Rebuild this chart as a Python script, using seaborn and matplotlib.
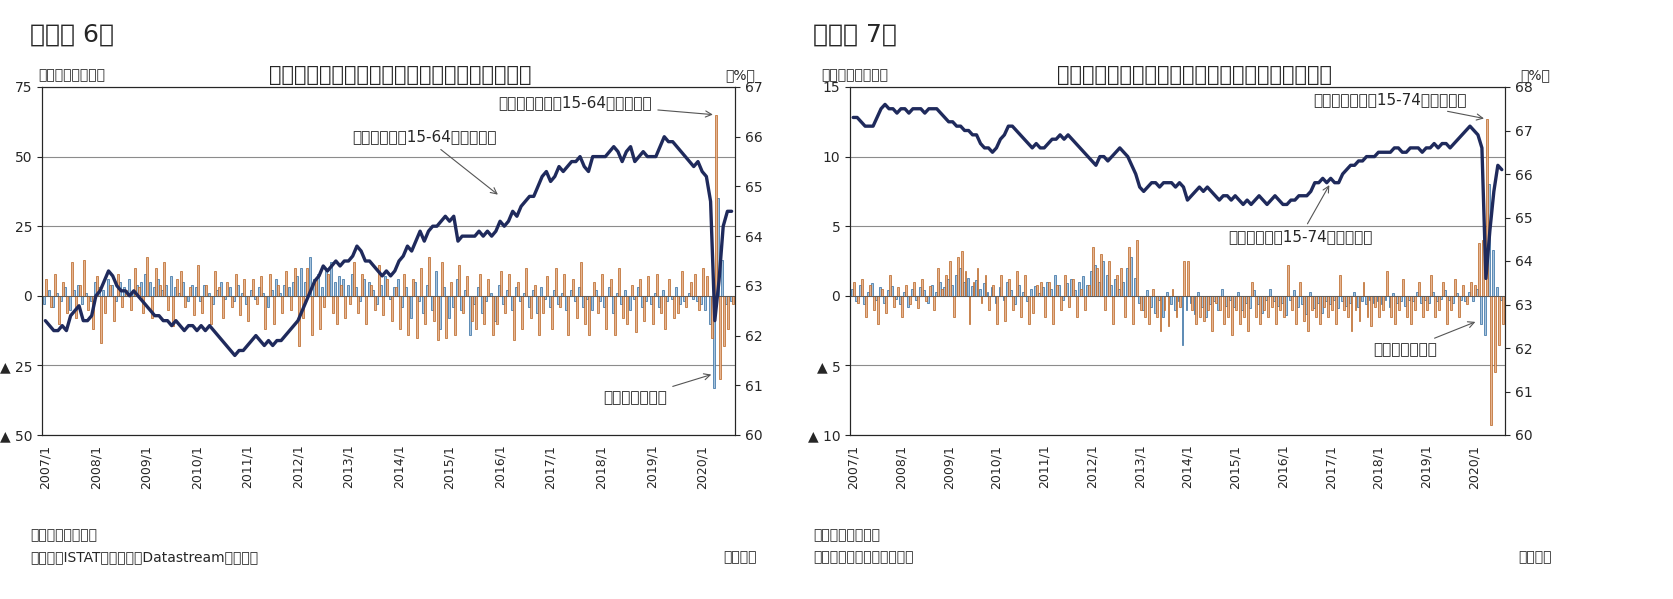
import numpy as np
import pandas as pd
import matplotlib
matplotlib.use("Agg")
import matplotlib.pyplot as plt
import seaborn as sns
from matplotlib.ticker import FuncFormatter

plt.rcParams["font.family"] = "Noto Sans CJK JP"
sns.set_style("white")

# 2007/1 - 2020/8 monthly
MONTHS = [f"{y}/{m}" for y in range(2007, 2021) for m in range(1, 13)][:164]

IT_LFPR = [
    62.3, 62.2, 62.1, 62.1, 62.2, 62.1, 62.4, 62.5, 62.6, 62.3, 62.3, 62.4,
    62.8, 62.9, 63.1, 63.3, 63.2, 63.0, 62.9, 62.9, 62.8, 62.9, 62.8, 62.7,
    62.6, 62.5, 62.4, 62.4, 62.3, 62.3, 62.2, 62.3, 62.2, 62.1, 62.2, 62.2,
    62.1, 62.2, 62.1, 62.2, 62.1, 62.0, 61.9, 61.8, 61.7, 61.6, 61.7, 61.7,
    61.8, 61.9, 62.0, 61.9, 61.8, 61.9, 61.8, 61.9, 61.9, 62.0, 62.1, 62.2,
    62.3, 62.5, 62.7, 62.9, 63.1, 63.2, 63.4, 63.3, 63.4, 63.5, 63.4, 63.5,
    63.5, 63.6, 63.8, 63.7, 63.5, 63.5, 63.4, 63.3, 63.2, 63.3, 63.2, 63.3,
    63.5, 63.6, 63.8, 63.7, 63.9, 64.1, 63.9, 64.1, 64.2, 64.2, 64.3, 64.4,
    64.3, 64.4, 63.9, 64.0, 64.0, 64.0, 64.0, 64.1, 64.0, 64.1, 64.0, 64.1,
    64.3, 64.2, 64.3, 64.5, 64.4, 64.6, 64.7, 64.8, 64.8, 65.0, 65.2, 65.3,
    65.1, 65.2, 65.4, 65.3, 65.4, 65.5, 65.5, 65.6, 65.4, 65.3, 65.6, 65.6,
    65.6, 65.6, 65.7, 65.8, 65.7, 65.5, 65.7, 65.8, 65.5, 65.6, 65.7, 65.6,
    65.6, 65.6, 65.8, 66.0, 65.9, 65.9, 65.8, 65.7, 65.6, 65.5, 65.4, 65.5,
    65.3, 65.2, 64.7, 62.3, 63.1, 64.2, 64.5, 64.5,
]
IT_UNEMP = [
    -3, 2, -4, 1, -2, 3, -5, 2, 4, -3, 1, -2,
    5, 3, 2, 6, 4, -2, 5, 3, 6, 2, 4, 5,
    8, 5, 3, 6, 2, 4, 7, 3, 1, 5, -2, 4,
    3, -2, 4, 1, -3, 2, 5, -1, 3, -2, 4, 1,
    -3, 2, -1, 3, 1, -4, 2, 6, 1, 4, 3, 5,
    7, 10, 5, 14, 6, 8, 3, 9, 12, 5, 7, 6,
    4, 8, 3, -2, 6, 5, 2, -3, 4, 7, -1, 3,
    6, -4, 3, -8, 5, -2, -6, 4, -5, 9, -12, 3,
    -8, -4, 6, -5, 2, -14, -3, 3, -6, -2, 1, -9,
    4, -3, 2, -5, 3, -2, 1, -4, 2, -6, 3, -1,
    -4, 2, -3, 1, -5, 2, -2, 3, -4, -1, -5, 2,
    -2, -4, 3, -6, 1, -3, 2, -5, -1, 3, -4, -2,
    -3, 1, -4, 2, -2, -1, 3, -3, -2, 1, -1, -2,
    -3, -5, -10, -33, 35, 13, -3, -2,
]
IT_INACT = [
    6, -4, 8, -10, 5, -6, 12, -8, 4, 13, -5, -12,
    7, -17, -6, 4, -9, 8, -4, 2, -5, 10, 3, -6,
    14, -8, 10, 4, 12, -5, -11, 6, 9, -4, 3, -7,
    11, -6, 4, -10, 9, 3, -8, 5, -4, 8, -7, 6,
    -9, 6, -3, 7, -12, 8, -10, 4, -6, 9, -5, 10,
    -18, -8, 10, -14, 6, -12, -4, 8, -6, -10, 4, -8,
    -3, 12, -6, 8, -10, 4, -5, 11, -7, 6, -9, 3,
    -12, 8, -14, 6, -15, 10, -10, 14, -9, -16, 12, -15,
    5, -14, 11, -6, 7, -9, -12, 8, -10, 6, -14, -10,
    9, -6, 8, -16, 5, -12, 10, -8, 4, -14, -6, 7,
    -12, 10, -4, 8, -14, 6, -8, 12, -10, -14, 5, -6,
    8, -12, 6, -14, 10, -8, -10, 4, -13, 6, -9, 7,
    -10, 8, -6, -12, 6, -8, -6, 9, -4, 5, 8, -5,
    10, 7, -15, 65, -30, -18, -12, -3,
]

PT_LFPR = [
    67.3, 67.3, 67.2, 67.1, 67.1, 67.1, 67.3, 67.5, 67.6, 67.5, 67.5, 67.4,
    67.5, 67.5, 67.4, 67.5, 67.5, 67.5, 67.4, 67.5, 67.5, 67.5, 67.4, 67.3,
    67.2, 67.2, 67.1, 67.1, 67.0, 67.0, 66.9, 66.9, 66.7, 66.6, 66.6, 66.5,
    66.6, 66.8, 66.9, 67.1, 67.1, 67.0, 66.9, 66.8, 66.7, 66.6, 66.7, 66.6,
    66.6, 66.7, 66.8, 66.8, 66.9, 66.8, 66.9, 66.8, 66.7, 66.6, 66.5, 66.4,
    66.3, 66.2, 66.4, 66.4, 66.3, 66.4, 66.5, 66.6, 66.5, 66.4, 66.2, 66.0,
    65.7, 65.6, 65.7, 65.8, 65.8, 65.7, 65.8, 65.8, 65.8, 65.7, 65.8, 65.7,
    65.4, 65.5, 65.6, 65.7, 65.6, 65.7, 65.6, 65.5, 65.4, 65.5, 65.5, 65.4,
    65.5, 65.4, 65.3, 65.4, 65.3, 65.4, 65.5, 65.4, 65.3, 65.4, 65.5, 65.4,
    65.3, 65.3, 65.4, 65.4, 65.5, 65.5, 65.5, 65.6, 65.8, 65.8, 65.9, 65.8,
    65.9, 65.8, 65.8, 66.0, 66.1, 66.2, 66.2, 66.3, 66.3, 66.4, 66.4, 66.4,
    66.5, 66.5, 66.5, 66.5, 66.6, 66.6, 66.5, 66.5, 66.6, 66.6, 66.6, 66.5,
    66.6, 66.6, 66.7, 66.6, 66.7, 66.7, 66.6, 66.7, 66.8, 66.9, 67.0, 67.1,
    67.0, 66.9, 66.6, 63.6, 64.7, 65.6, 66.2, 66.1,
]
PT_UNEMP = [
    0.5, -0.4, 0.8, -0.6, 0.3, 0.9, -0.3, 0.6, -0.5, 0.4, 0.7, -0.2,
    -0.6, 0.3, -0.8, 0.5, -0.3, 0.6, 0.4, -0.5, 0.8, 0.3, 1.0, 0.6,
    1.2, 0.8, 1.5, 2.0, 1.0, 1.3, 0.7, 1.1, 0.5, 0.9, 0.3, 0.6,
    -0.5, 0.6, -0.3, 1.0, 0.4, -0.6, 0.8, 0.3, -0.4, 0.5, 0.7, 0.2,
    0.6, 1.0, 0.5, 1.5, 0.8, -0.3, 0.9, 1.2, 0.4, 1.0, 1.4, 0.8,
    1.8, 2.2, 1.0, 2.5, 1.5, 0.8, 1.2, 0.5, 1.0, 2.0, 2.8, 1.3,
    -0.5, -1.0, 0.4, -0.8, -1.2, -0.3, -1.5, 0.3, -0.6, -1.0, -0.4, -3.5,
    -1.0, -0.5, -1.3, 0.3, -0.8, -1.5, -0.6, -0.4, -1.0, 0.5, -0.7, -0.3,
    -0.8, 0.3, -1.0, -0.5, -0.9, 0.4, -0.6, -1.2, -0.3, 0.5, -0.4, -0.7,
    -0.5, -1.4, -0.3, 0.4, -0.8, -0.6, -1.3, 0.3, -0.9, -0.5, -1.2, -0.4,
    -0.6, -0.3, -0.9, -0.4, -0.7, -0.5, 0.3, -0.8, -0.4, -0.6, -0.3, -0.5,
    -0.4, -0.6, -0.3, -0.8, 0.2, -0.5, -0.4, -0.7, -0.3, -0.4, 0.3, -0.5,
    -0.3, -0.5, 0.3, -0.4, -0.2, 0.4, -0.3, -0.5, 0.2, -0.3, -0.4, 0.3,
    -0.4, 0.5, -2.0, -2.8, 8.0, 3.3, 0.6, -0.3,
]
PT_INACT = [
    1.0, -0.5, 1.2, -1.5, 0.8, -1.0, -2.0, 0.5, -1.2, 1.5, -0.8, 0.6,
    -1.5, 0.8, -0.6, 1.0, -0.9, 1.2, -0.4, 0.7, -1.0, 2.0, 0.5, 1.5,
    2.5, -1.5, 2.8, 3.2, 1.8, -2.0, 1.0, 2.0, -0.5, 1.5, -1.0, 0.8,
    -2.0, 1.5, -1.8, 1.2, -1.0, 1.8, -1.5, 1.5, -2.0, -1.2, 0.8, 1.0,
    -1.5, 1.0, -2.0, 0.8, -1.0, 1.5, -0.8, 1.2, -1.5, 0.5, -1.0, 0.8,
    3.5, 2.0, 3.0, -1.0, 2.5, -2.0, 1.5, 2.0, -1.5, 3.5, -2.0, 4.0,
    -1.0, -1.5, -2.0, 0.5, -1.5, -2.5, -1.0, -2.2, 0.5, -1.5, -0.8, 2.5,
    2.5, -1.0, -2.0, -1.5, -1.8, -1.0, -2.5, -0.5, -1.0, -2.0, -1.5, -2.8,
    -1.0, -2.0, -1.5, -2.5, 1.0, -1.5, -2.0, -1.0, -1.5, -0.8, -2.0, -1.0,
    -1.5, 2.2, -1.0, -2.0, 1.0, -1.8, -2.5, -1.0, -1.5, -2.0, -0.8, -1.5,
    -1.0, -2.0, 1.5, -1.0, -1.5, -2.5, -1.0, -1.8, 1.0, -1.5, -2.2, -0.8,
    -1.5, -1.0, 1.8, -1.5, -2.0, -1.0, 1.2, -1.5, -2.0, -1.0, 1.0, -1.5,
    -1.0, 1.5, -1.5, -1.0, 1.0, -2.0, -1.0, 1.2, -1.5, 0.8, -0.6, 1.0,
    0.8, 3.8, 4.0, 12.7, -9.3, -5.5, -3.5, -2.0,
]

BLUE = "#9dc3e6"
BLUE_EDGE = "#2f6a9e"
ORANGE = "#f4b183"
ORANGE_EDGE = "#b8621f"
NAVY = "#1f2a5c"


def tri_fmt(v, _):
    return f"▲ {abs(v):g}" if v < 0 else f"{v:g}"


def draw_panel(fig, rect, unemp, inact, lfpr, ylim, yticks, rlim, ann):
    ax = fig.add_axes(rect)
    df = pd.DataFrame({
        "month": MONTHS * 2,
        "val": list(unemp) + list(inact),
        "series": ["失業者"] * len(MONTHS) + ["非労働力"] * len(MONTHS),
    })
    sns.barplot(data=df, x="month", y="val", hue="series", ax=ax,
                palette=[BLUE, ORANGE], linewidth=0.5, width=0.95, legend=False)
    # edge colour per series
    for container, edge in zip(ax.containers, [BLUE_EDGE, ORANGE_EDGE]):
        for bar in container:
            bar.set_edgecolor(edge)
    ax.set_ylim(*ylim)
    ax.set_yticks(yticks)
    ax.yaxis.set_major_formatter(FuncFormatter(tri_fmt))
    ax.grid(True, axis="y", color="#8c8c8c", linewidth=0.8)
    ax.set_axisbelow(True)
    ax.axhline(0, color="#555555", linewidth=0.6)
    ax.set_xlim(-0.8, len(MONTHS) - 0.2)
    ticks = list(range(0, len(MONTHS), 12))
    ax.set_xticks(ticks)
    ax.set_xticklabels([MONTHS[i] for i in ticks], rotation=90, fontsize=9)
    ax.set_xlabel("")
    ax.set_ylabel("")
    ax.tick_params(axis="y", labelsize=10)
    for s in ax.spines.values():
        s.set_color("#333333")

    ax2 = ax.twinx()
    sns.lineplot(x=np.arange(len(MONTHS)), y=lfpr, ax=ax2, color=NAVY, linewidth=2.4)
    ax2.set_ylim(*rlim)
    ax2.set_yticks(range(rlim[0], rlim[1] + 1))
    ax2.tick_params(axis="y", labelsize=10)

    arrow = dict(arrowstyle="->", color="#555555", linewidth=0.8)
    for text, (xi, yv, axis), (tx, ty) in ann:
        target = ax if axis == "l" else ax2
        target.annotate(text, xy=(xi, yv), xycoords="data",
                        xytext=(tx / 1673, 1 - ty / 599), textcoords="figure fraction",
                        fontsize=11, ha="center", va="center", arrowprops=arrow)
    return ax


fig = plt.figure(figsize=(16.73, 5.99), dpi=100)

draw_panel(fig, [42 / 1673, 1 - 435 / 599, 693 / 1673, 348 / 599],
           IT_UNEMP, IT_INACT, IT_LFPR, (-50, 75), [-50, -25, 0, 25, 50, 75], (60, 67),
           [("非労働者人口（15-64才）の変化", (159.2, 65, "l"), (575, 103)),
            ("労働参加率（15-64才、右軸）", (108, 64.8, "r"), (425, 137)),
            ("失業者数の変化", (158.8, -28, "l"), (635, 398))])

draw_panel(fig, [850 / 1673, 1 - 435 / 599, 655 / 1673, 348 / 599],
           PT_UNEMP, PT_INACT, PT_LFPR, (-10, 15), [-10, -5, 0, 5, 10, 15], (60, 68),
           [("非労働者人口（15-74才）の変化", (159.2, 12.7, "l"), (1390, 100)),
            ("労働参加率（15-74才、右軸）", (120, 65.8, "r"), (1300, 237)),
            ("失業者数の変化", (157, -1.8, "l"), (1405, 350))])

for x0, fig_no, title, note_src, right_x, title_x in [
        (30, "（図表 6）", "イタリアの失業者・非労働力人口・労働参加率",
         "（資料）ISTATのデータをDatastreamより取得", 740, 400),
        (813, "（図表 7）", "ポルトガルの失業者・非労働力人口・労働参加率",
         "（資料）ポルトガル統計局", 1535, 1195)]:
    fig.text(x0 / 1673, 1 - 35 / 599, fig_no, fontsize=18, va="center")
    fig.text((x0 + 8) / 1673, 1 - 75 / 599, "（前月差、万人）", fontsize=10, va="center")
    fig.text(title_x / 1673, 1 - 75 / 599, title, fontsize=15, fontweight="bold",
             ha="center", va="center")
    fig.text(right_x / 1673, 1 - 75 / 599, "（%）", fontsize=10, ha="center", va="center")
    fig.text(x0 / 1673, 1 - 535 / 599, "（注）季節調整値", fontsize=10, va="center")
    fig.text(x0 / 1673, 1 - 557 / 599, note_src, fontsize=10, va="center")
    fig.text(right_x / 1673, 1 - 557 / 599, "（月次）", fontsize=10, ha="center", va="center")

fig.savefig("out.png", dpi=100, facecolor="white")
